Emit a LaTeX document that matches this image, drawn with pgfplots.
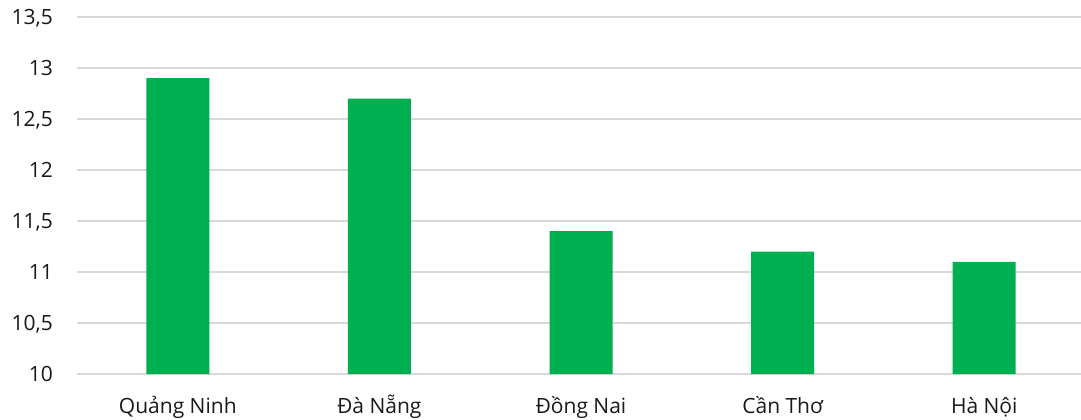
\documentclass[border=0pt]{standalone}
\usepackage{fontspec}
\setmainfont{Open Sans}
\usepackage{pgfplots}
\pgfplotsset{compat=1.18}
\definecolor{bargreen}{HTML}{00B050}
\definecolor{gridgray}{HTML}{D9D9D9}
\begin{document}
\begin{tikzpicture}
\begin{axis}[
  scale only axis,
  width=1004bp, height=357bp,
  xmin=-0.5, xmax=4.48,
  ymin=10, ymax=13.5,
  ytick={10,10.5,...,13.5},
  xtick={0,1,2,3,4},
  xticklabels={Quảng Ninh, Đà Nẵng, Đồng Nai, Cần Thơ, Hà Nội},
  axis line style={draw=none},
  major tick length=0pt,
  ymajorgrids,
  grid style={gridgray, line width=2bp},
  /pgf/number format/use comma,
  /pgf/number format/assume math mode=true,
  tick label style={font=\fontsize{21bp}{25bp}\selectfont, text=black!90},
  yticklabel style={inner sep=0pt, anchor=east, text depth=0pt},
  yticklabel shift=24bp,
  xticklabel style={inner sep=0pt, anchor=base},
  xticklabel shift=39bp,
  axis on top=false,
  clip=false,
]
\addplot[ybar, bar width=63bp, fill=bargreen, draw=none] coordinates {
  (0,12.9) (1,12.7) (2,11.4) (3,11.2) (4,11.1)
};
\coordinate (sw) at (rel axis cs:0,0);
\coordinate (ne) at (rel axis cs:1,1);
\end{axis}
\pgfresetboundingbox
\path ([shift={(-77bp,-46bp)}]sw) rectangle ([shift={(0bp,17bp)}]ne);
\end{tikzpicture}
\end{document}
